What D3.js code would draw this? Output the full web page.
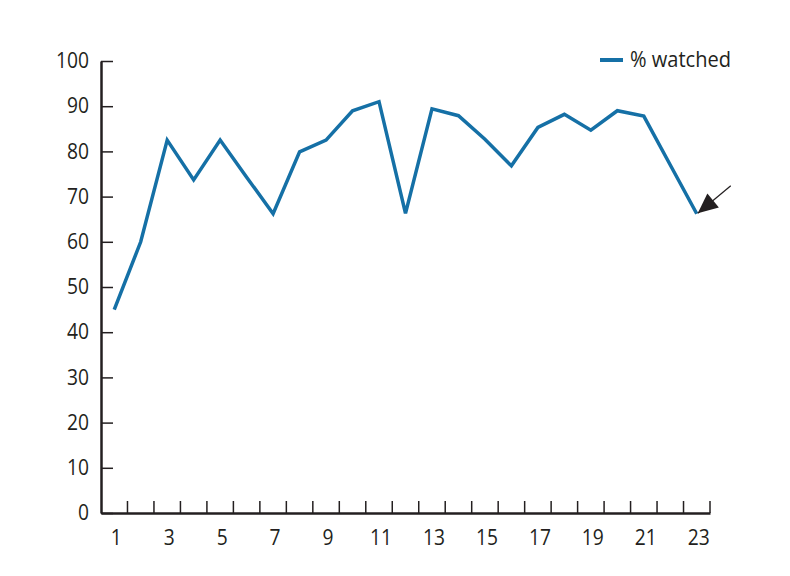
<!DOCTYPE html>
<html><head><meta charset="utf-8">
<script src="https://cdn.jsdelivr.net/npm/d3@7"></script>
<style>body{margin:0;background:#fff}svg{display:block}text{font-family:"Open Sans","Noto Sans",sans-serif;fill:#231f20}</style>
</head><body><svg id="c" width="790" height="576"></svg>
<script>
const sessions = d3.range(1, 24);
const watched = [45, 60, 82.5, 73.7, 82.5, 74.3, 66.2, 79.9, 82.5, 89, 91, 66.3, 89.4, 87.9, 82.7, 76.8, 85.3, 88.2, 84.7, 89, 87.8, 77, 66.2];
const yTicks = [0, 10, 20, 30, 40, 50, 60, 70, 80, 90, 100];
const xLabels = [1, 3, 5, 7, 9, 11, 13, 15, 17, 19, 21, 23];
const seriesName = "% watched";

const svg = d3.select("#c");
const L = 101, R = 710, T = 61, B = 513;
const x = d3.scaleBand().domain(sessions).range([L, R]).padding(0);
const y = d3.scaleLinear().domain([0, 100]).range([B, T]);
const ink = "#231f20", blue = "#1570a6";

// y axis
const ya = svg.append("g").attr("transform", `translate(${L},0)`)
  .call(d3.axisLeft(y).tickValues(yTicks).tickSizeInner(-12).tickSizeOuter(0).tickPadding(12));
ya.select(".domain").attr("stroke", ink).attr("stroke-width", 2.5);
ya.selectAll(".tick line").attr("stroke", ink).attr("stroke-width", 1.5);
ya.selectAll(".tick text").attr("font-size", 21).attr("fill", ink).attr("font-family", null)
  .attr("textLength", d => String(d).length * 11).attr("lengthAdjust", "spacingAndGlyphs");

// x axis
const xa = svg.append("g").attr("transform", `translate(0,${B})`)
  .call(d3.axisBottom(x).tickValues([]).tickSizeOuter(0));
xa.select(".domain").attr("stroke", ink).attr("stroke-width", 2.5);
svg.append("g").selectAll("line").data(sessions).join("line")
  .attr("x1", d => x(d) + x.bandwidth()).attr("x2", d => x(d) + x.bandwidth())
  .attr("y1", B).attr("y2", B - 12).attr("stroke", ink).attr("stroke-width", 1.5);
svg.append("g").selectAll("text").data(xLabels).join("text")
  .attr("x", d => x(d) + x.bandwidth() / 2 + 2).attr("y", B + 32)
  .attr("text-anchor", "middle").attr("font-size", 21)
  .attr("textLength", d => String(d).length * 11).attr("lengthAdjust", "spacingAndGlyphs")
  .text(d => d);

// line
const line = d3.line().x((d, i) => x(sessions[i]) + x.bandwidth() / 2).y(d => y(d));
svg.append("path").datum(watched).attr("d", line).attr("fill", "none")
  .attr("stroke", blue).attr("stroke-width", 3.5).attr("stroke-linejoin", "miter");

// arrow annotation at last point
const last = sessions.length - 1;
const tx = x(sessions[last]) + x.bandwidth() / 2, ty = y(watched[last]);
svg.append("defs").append("marker").attr("id", "ah")
  .attr("viewBox", "0 0 10 9").attr("refX", 10).attr("refY", 4.5)
  .attr("markerWidth", 22).attr("markerHeight", 18)
  .attr("markerUnits", "userSpaceOnUse").attr("orient", "auto")
  .append("path").attr("d", "M0,0 L10,4.5 L0,9 Z").attr("fill", ink);
svg.append("line").attr("x1", tx + 34).attr("y1", ty - 28).attr("x2", tx + 1).attr("y2", ty - 0.5)
  .attr("stroke", ink).attr("stroke-width", 1.2).attr("marker-end", "url(#ah)");

// legend
svg.append("line").attr("x1", 600).attr("x2", 623).attr("y1", 60).attr("y2", 60)
  .attr("stroke", blue).attr("stroke-width", 4);
svg.append("text").attr("x", 630).attr("y", 67).attr("font-size", 21)
  .attr("textLength", 101).attr("lengthAdjust", "spacingAndGlyphs").text(seriesName);
</script></body></html>
